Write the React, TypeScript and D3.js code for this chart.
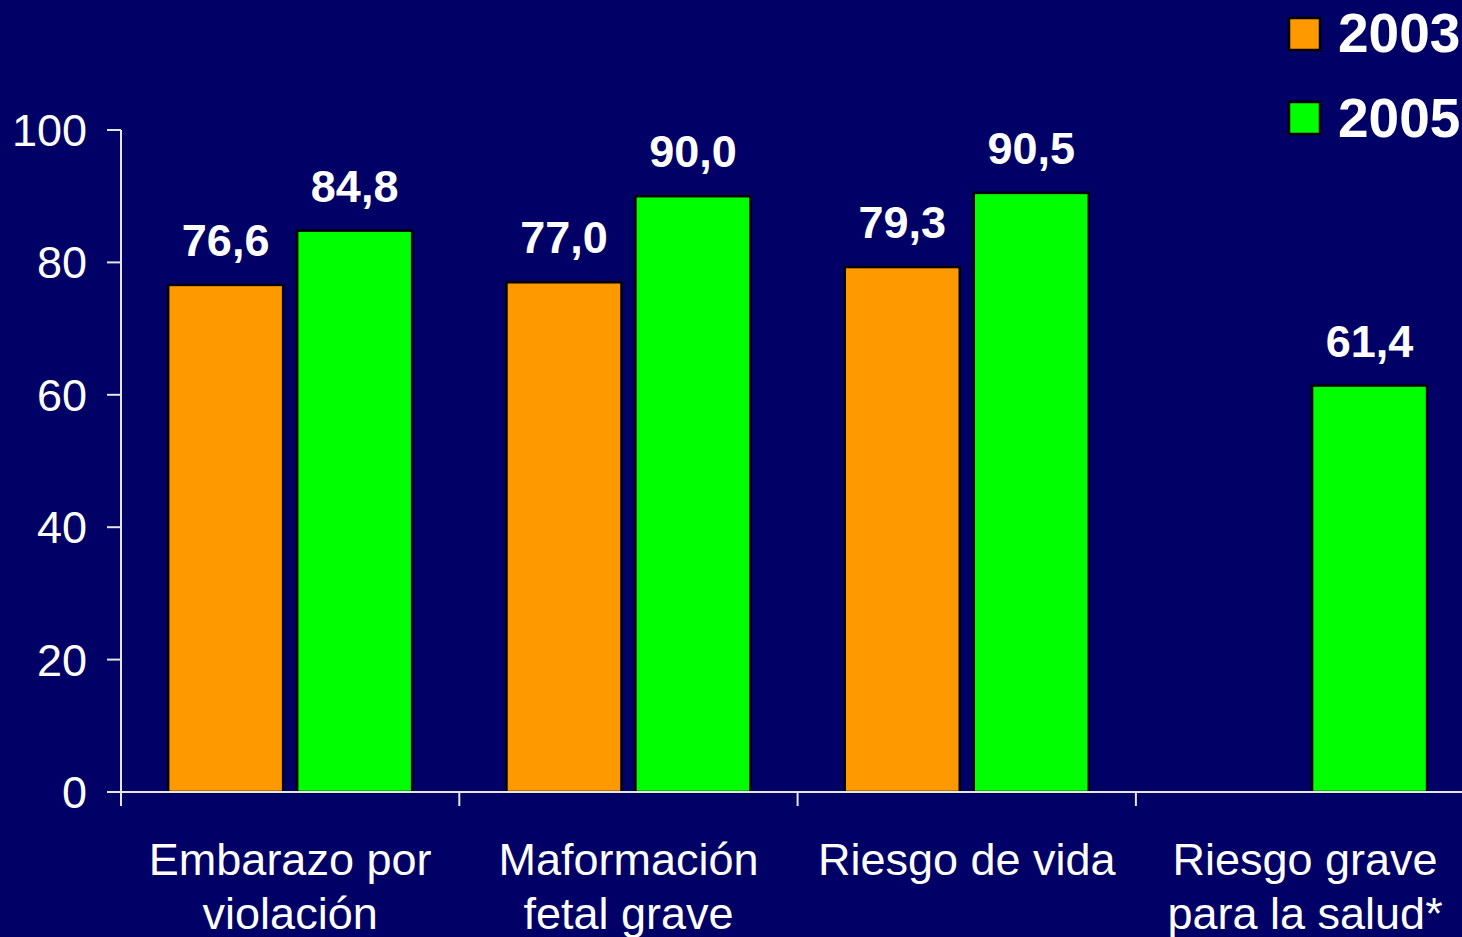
import React from "react";
import * as d3 from "d3";

const categories = ["Embarazo por violación", "Maformación fetal grave", "Riesgo de vida", "Riesgo grave para la salud*"];
const categoryLines = [["Embarazo por", "violación"], ["Maformación", "fetal grave"], ["Riesgo de vida"], ["Riesgo grave", "para la salud*"]];
const seriesNames = ["2003", "2005"];
const values2003: (number | null)[] = [76.6, 77.0, 79.3, null];
const values2005: (number | null)[] = [84.8, 90.0, 90.5, 61.4];
const yTicks = [0, 20, 40, 60, 80, 100];
const colors = ["#FF9900", "#00FF00"];

const W = 1462, H = 937;
const x0 = 121, y0 = 792, yTop = 130;
const catW = 338.3;

export default function App() {
  const x = d3.scaleBand<string>().domain(categories).range([x0, x0 + catW * categories.length]).padding(0);
  const xi = d3.scaleBand<string>().domain(seriesNames).range([0, x.bandwidth()]).paddingInner(0.1085).paddingOuter(0.3655);
  const y = d3.scaleLinear().domain([0, 100]).range([y0, yTop]);
  const series = [values2003, values2005];
  const font = "'Liberation Sans', Arial, sans-serif";
  const axisColor = "#e6e6e6";
  return (
    <svg width={W} height={H} style={{ position: "absolute", left: 0, top: 0, display: "block" }} fontFamily={font}>
      <rect x={0} y={0} width={W} height={H} fill="#000066" />
      {series.map((vals, si) =>
        vals.map((v, ci) =>
          v == null ? null : (
            <g key={`${si}-${ci}`}>
              <rect
                x={(x(categories[ci]) as number) + (xi(seriesNames[si]) as number)}
                y={y(v)}
                width={xi.bandwidth()}
                height={y0 - y(v)}
                fill={colors[si]}
                stroke="#000"
                strokeWidth={2.5}
              />
              <text
                x={(x(categories[ci]) as number) + (xi(seriesNames[si]) as number) + xi.bandwidth() / 2}
                y={y(v) - 29}
                textAnchor="middle"
                fill="#fff"
                fontWeight="bold"
                fontSize={45}
              >
                {v.toFixed(1).replace(".", ",")}
              </text>
            </g>
          )
        )
      )}
      {/* y axis */}
      <line x1={x0} x2={x0} y1={yTop} y2={y0} stroke={axisColor} strokeWidth={2} />
      {yTicks.map((t) => (
        <g key={t}>
          <line x1={x0 - 14} x2={x0} y1={y(t)} y2={y(t)} stroke={axisColor} strokeWidth={2} />
          <text x={87} y={y(t) + 16} textAnchor="end" fill="#fff" fontSize={45}>
            {t}
          </text>
        </g>
      ))}
      {/* x axis */}
      <line x1={x0 - 14} x2={W} y1={y0} y2={y0} stroke={axisColor} strokeWidth={2} />
      {categories.map((c, i) => (
        <g key={c}>
          <line x1={x(c) as number} x2={x(c) as number} y1={y0} y2={y0 + 14} stroke={axisColor} strokeWidth={2} />
          <text textAnchor="middle" fill="#fff" fontSize={45}>
            {categoryLines[i].map((ln, li) => (
              <tspan key={li} x={(x(c) as number) + x.bandwidth() / 2} y={875 + li * 54}>
                {ln}
              </tspan>
            ))}
          </text>
        </g>
      ))}
      {/* legend */}
      {seriesNames.map((s, i) => (
        <g key={s}>
          <rect x={1289} y={18 + i * 84} width={31} height={32} fill={colors[i]} stroke="#000" strokeWidth={2.5} />
          <text x={1338} y={52 + i * 85} fill="#fff" fontWeight="bold" fontSize={55}>
            {s}
          </text>
        </g>
      ))}
    </svg>
  );
}
